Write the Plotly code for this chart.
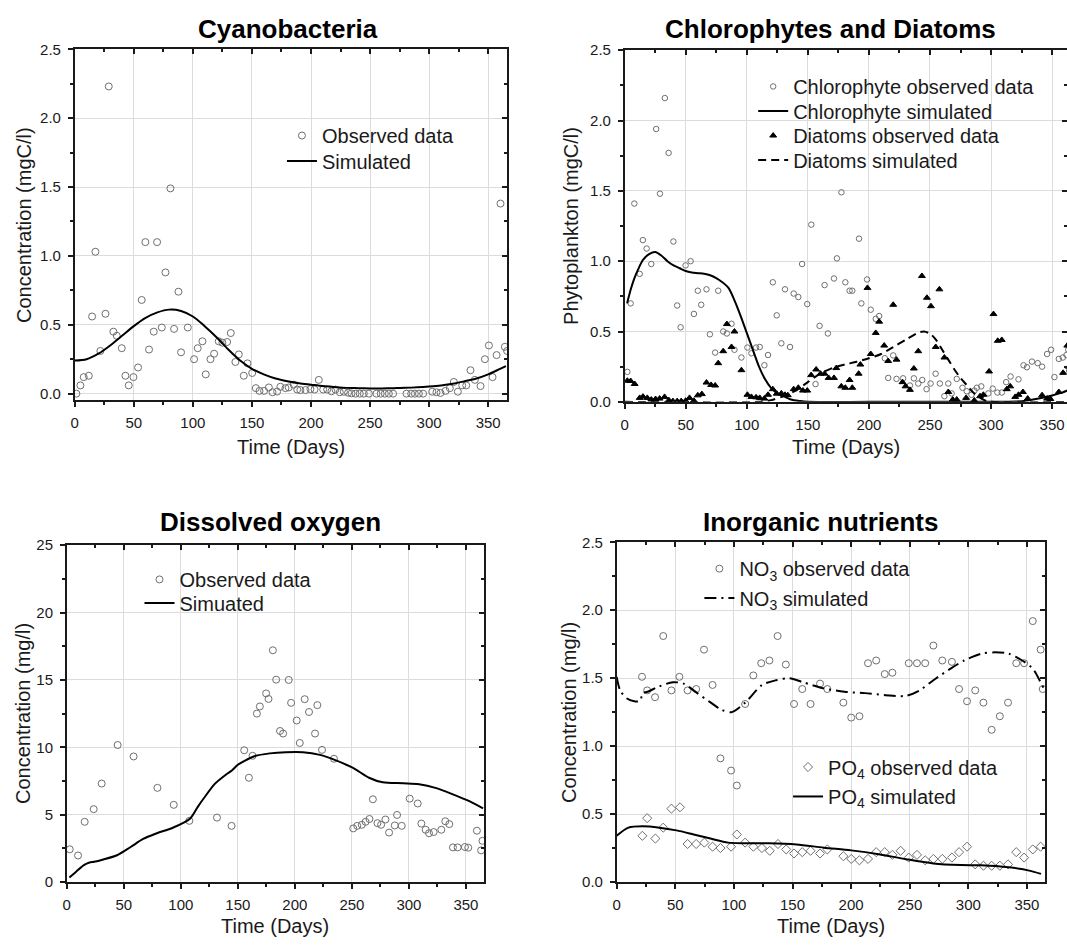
import plotly.graph_objects as go

# ---------------- data ----------------
# Cyanobacteria
cyano_obs_day = [1.4, 4.8, 7.6, 11.9, 14.7, 17.5, 21.7, 26.0, 28.8, 32.7,
                 35.6, 39.8, 42.9, 45.7, 49.7, 53.6, 56.7, 59.8, 62.9, 66.9,
                 69.7, 73.7, 76.8, 81.0, 84.1, 87.8, 90.0, 95.7, 101.0, 104.1,
                 108.1, 110.9, 114.9, 118.0, 121.9, 125.0, 129.0, 132.1, 136.0, 138.9,
                 143.1, 146.2, 150.2, 153.3, 156.4, 160.3, 164.3, 167.4, 171.3, 174.1,
                 178.4, 181.2, 185.4, 188.3, 191.0, 195.3, 199.5, 203.0, 206.6, 210.3,
                 213.7, 217.3, 220.7, 224.4, 227.8, 231.4, 234.3, 237.7, 241.3, 244.7,
                 249.0, 255.4, 259.0, 262.5, 265.9, 269.5, 280.8, 284.8, 287.9, 291.3,
                 294.9, 302.6, 306.2, 309.6, 313.9, 317.5, 320.9, 324.3, 328.0, 331.4,
                 335.0, 338.7, 343.5, 347.2, 350.6, 353.7, 357.1, 360.4, 364.1, 366.0]
cyano_obs_val = [0.0, 0.06, 0.12, 0.13, 0.56, 1.03, 0.31, 0.58, 2.23, 0.45,
                 0.42, 0.33, 0.13, 0.06, 0.12, 0.19, 0.68, 1.10, 0.32, 0.45,
                 1.10, 0.48, 0.88, 1.49, 0.47, 0.74, 0.30, 0.48, 0.25, 0.33,
                 0.38, 0.14, 0.25, 0.29, 0.38, 0.37, 0.375, 0.44, 0.23, 0.285,
                 0.13, 0.22, 0.15, 0.04, 0.02, 0.02, 0.045, 0.01, 0.015, 0.05,
                 0.04, 0.045, 0.065, 0.03, 0.026, 0.026, 0.033, 0.03, 0.10, 0.03,
                 0.03, 0.017, 0.03, 0.01, 0.014, 0.007, 0.002, 0.0, 0.0, 0.0,
                 0.0, 0.0, 0.0, 0.0, 0.0, 0.0, 0.0, 0.0, 0.0, 0.0,
                 0.0, 0.014, 0.01, 0.005, 0.02, 0.04, 0.085, 0.014, 0.06, 0.06,
                 0.17, 0.10, 0.055, 0.25, 0.35, 0.12, 0.28, 1.38, 0.34, 0.31]
cyano_sim_day = [0, 10, 20, 30, 40, 50, 60, 70, 80, 90, 100, 110, 120, 130, 140,
                 150, 160, 170, 180, 190, 200, 210, 220, 230, 240, 250, 260, 270,
                 280, 290, 300, 310, 320, 330, 340, 350, 360, 365]
cyano_sim_val = [0.24, 0.25, 0.29, 0.35, 0.42, 0.49, 0.55, 0.59, 0.61, 0.60, 0.56,
                 0.49, 0.41, 0.32, 0.24, 0.18, 0.14, 0.11, 0.09, 0.075, 0.065, 0.055,
                 0.048, 0.042, 0.04, 0.038, 0.038, 0.04, 0.042, 0.046, 0.052, 0.06,
                 0.072, 0.09, 0.11, 0.14, 0.18, 0.20]

# Chlorophytes and diatoms
chloro_obs_day = [2.2, 4.9, 7.9, 12.3, 14.9, 18.0, 21.8, 25.8, 28.9, 32.9,
                  36.0, 39.9, 43.0, 45.8, 49.9, 54.0, 56.7, 59.9, 62.7, 67.0,
                  69.8, 74.1, 76.6, 80.7, 83.7, 87.5, 89.9, 95.6, 100.5, 103.8,
                  107.6, 110.6, 114.4, 117.4, 121.3, 124.5, 128.3, 131.3, 135.4, 138.4,
                  142.2, 145.3, 149.5, 152.8, 156.3, 159.6, 163.7, 166.4, 171.4, 173.8,
                  177.5, 180.7, 184.2, 186.4, 191.9, 193.8, 198.5, 201.5, 205.6, 208.4,
                  213.0, 215.8, 219.9, 222.6, 228.0, 233.6, 236.8, 240.4, 243.7, 247.2,
                  250.5, 254.6, 258.1, 261.8, 265.0, 267.7, 271.9, 276.6, 280.1, 284.0,
                  286.4, 288.4, 292.0, 297.8, 301.4, 305.2, 308.8, 312.4, 316.0, 322.5,
                  326.6, 329.4, 333.5, 338.2, 341.8, 345.9, 349.2, 351.9, 355.5, 358.8,
                  361.8, 363.2, 364.0]
chloro_obs_val = [0.213, 0.70, 1.41, 0.91, 1.15, 1.09, 0.98, 1.94, 1.48, 2.16,
                  1.77, 1.14, 0.685, 0.53, 0.97, 1.00, 0.625, 0.79, 0.69, 0.80,
                  0.48, 0.35, 0.79, 0.50, 0.486, 0.555, 0.37, 0.315, 0.386, 0.345,
                  0.386, 0.39, 0.26, 0.333, 0.85, 0.615, 0.416, 0.80, 0.39, 0.77,
                  0.745, 0.98, 0.695, 1.26, 0.126, 0.54, 0.83, 0.486, 0.877, 1.02,
                  1.49, 0.85, 0.79, 0.79, 1.16, 0.70, 0.87, 0.655, 0.59, 0.61,
                  0.31, 0.17, 0.33, 0.163, 0.167, 0.116, 0.167, 0.13, 0.155, 0.09,
                  0.13, 0.20, 0.13, 0.04, 0.13, 0.06, 0.163, 0.10, 0.075, 0.05,
                  0.08, 0.10, 0.11, 0.06, 0.094, 0.066, 0.066, 0.14, 0.18, 0.16,
                  0.26, 0.246, 0.286, 0.275, 0.25, 0.34, 0.37, 0.176, 0.305, 0.315,
                  0.333, 0.37, 0.22]
chloro_sim_day = [2, 5, 8, 12, 15, 20, 25, 30, 35, 40, 45, 50, 55, 60, 65, 70, 75,
                  80, 85, 90, 95, 100, 105, 110, 115, 120, 125, 130, 136, 144, 150,
                  200, 250, 300, 320, 330, 340, 350, 358, 365]
chloro_sim_val = [0.70, 0.80, 0.88, 0.96, 1.01, 1.05, 1.065, 1.04, 1.0, 0.97, 0.95,
                  0.93, 0.92, 0.915, 0.91, 0.90, 0.88, 0.85, 0.81, 0.72, 0.61, 0.49,
                  0.37, 0.25, 0.16, 0.097, 0.06, 0.04, 0.016, 0.005, 0.0, 0.0, 0.0,
                  0.0, 0.002, 0.01, 0.025, 0.045, 0.065, 0.09]
diatom_obs_day = [2.2, 4.9, 8.2, 12.3, 15.0, 18.5, 21.8, 25.3, 28.6, 32.7,
                  36.2, 39.5, 43.0, 46.3, 49.9, 53.1, 56.7, 59.9, 63.2, 67.0,
                  70.8, 74.1, 76.6, 80.7, 83.7, 87.5, 89.9, 95.6, 100.5, 103.8,
                  107.6, 110.6, 114.4, 117.4, 121.3, 124.5, 128.3, 131.3, 133.6, 138.4,
                  142.2, 146.0, 149.5, 152.7, 156.8, 160.4, 163.7, 167.0, 171.4, 173.3,
                  177.4, 180.7, 184.2, 186.4, 191.6, 193.0, 198.8, 201.5, 205.6, 208.4,
                  212.5, 215.8, 219.9, 222.6, 227.5, 230.0, 233.6, 236.8, 240.4, 243.4,
                  247.5, 250.8, 254.7, 257.7, 261.8, 265.0, 268.6, 271.9, 279.6, 286.3,
                  291.0, 293.7, 298.4, 302.0, 305.5, 308.8, 312.9, 315.7, 319.8, 322.5,
                  326.1, 330.0, 341.8, 345.9, 348.6, 355.5, 359.0, 362.4, 363.7]
diatom_obs_val = [0.15, 0.148, 0.127, 0.028, 0.037, 0.028, 0.016, 0.02, 0.023, 0.035,
                  0.012, 0.005, 0.005, 0.005, 0.008, 0.028, 0.008, 0.046, 0.055, 0.137,
                  0.12, 0.116, 0.275, 0.36, 0.553, 0.39, 0.50, 0.225, 0.05, 0.035,
                  0.032, 0.028, 0.023, 0.05, 0.09, 0.058, 0.06, 0.05, 0.047, 0.09,
                  0.10, 0.08, 0.08, 0.19, 0.23, 0.20, 0.20, 0.17, 0.17, 0.24,
                  0.11, 0.10, 0.155, 0.10, 0.20, 0.265, 0.81, 0.34, 0.49, 0.57,
                  0.40, 0.29, 0.69, 0.30, 0.14, 0.11, 0.085, 0.237, 0.36, 0.895,
                  0.74, 0.68, 0.39, 0.80, 0.315, 0.07, 0.016, 0.016, 0.028, 0.01,
                  0.04, 0.05, 0.216, 0.624, 0.434, 0.44, 0.09, 0.11, 0.035, 0.05,
                  0.07, 0.023, 0.047, 0.023, 0.02, 0.07, 0.206, 0.40, 0.25]
diatom_sim_day = [0, 110, 120, 130, 140, 150, 160, 170, 180, 190, 200, 210, 220, 230,
                  240, 245, 250, 255, 260, 265, 270, 275, 280, 285, 290, 295, 300, 365]
diatom_sim_val = [0.0, 0.0, 0.012, 0.04, 0.08, 0.14, 0.20, 0.24, 0.265, 0.285, 0.31,
                  0.34, 0.39, 0.44, 0.49, 0.50, 0.485, 0.44, 0.37, 0.30, 0.23, 0.17,
                  0.12, 0.07, 0.035, 0.01, 0.0, 0.0]

# Dissolved oxygen
do_obs_day = [2.6, 9.9, 15.7, 23.6, 30.6, 44.6, 58.6, 79.5, 93.8, 107.5,
              131.7, 144.5, 155.6, 159.7, 162.9, 166.7, 169.3, 174.8, 176.9, 180.7,
              183.6, 187.0, 189.7, 194.6, 196.7, 201.6, 204.3, 208.6, 212.4, 217.7,
              219.7, 223.8, 234.3, 251.2, 254.7, 258.7, 262.0, 265.4, 268.4, 272.4,
              275.6, 279.4, 282.6, 287.6, 289.6, 293.7, 300.7, 307.7, 310.9, 314.7,
              317.6, 321.7, 328.4, 331.9, 335.4, 338.6, 342.7, 349.1, 352.0, 359.6,
              363.3, 364.5]
do_obs_val = [2.43, 1.97, 4.47, 5.41, 7.31, 10.17, 9.32, 6.99, 5.73, 4.54,
              4.78, 4.17, 9.78, 7.74, 9.37, 12.5, 13.03, 14.0, 13.59, 17.2,
              15.02, 11.21, 11.02, 15.0, 13.3, 11.99, 10.32, 13.57, 12.62, 11.02,
              13.13, 9.81, 9.15, 3.98, 4.17, 4.25, 4.47, 4.68, 6.14, 4.37,
              4.25, 4.64, 3.67, 4.2, 4.98, 4.17, 6.19, 5.83, 4.34, 3.88,
              3.62, 3.71, 3.88, 4.51, 4.30, 2.57, 2.57, 2.6, 2.55, 3.81,
              2.35, 3.06]
do_sim_day = [2.3, 8, 15, 20, 24, 32, 44, 56, 67, 79, 93.5, 108, 115, 120, 130, 140,
              145, 150, 155, 165, 178, 192, 207, 222, 236, 251, 265, 277, 295, 309,
              324, 338, 353, 365]
do_sim_val = [0.34, 0.75, 1.26, 1.45, 1.5, 1.67, 1.99, 2.6, 3.2, 3.62, 4.05, 4.7,
              5.6, 6.2, 7.3, 8.0, 8.3, 8.7, 8.95, 9.35, 9.55, 9.64, 9.64, 9.44, 9.03,
              8.47, 7.74, 7.4, 7.33, 7.26, 6.97, 6.53, 6.0, 5.46]

# Inorganic nutrients
no3_obs_day = [21.6, 26.0, 32.7, 39.7, 46.7, 53.5, 60.5, 67.8, 74.5, 81.8,
               88.5, 97.6, 102.5, 109.6, 116.6, 123.3, 130.3, 137.3, 144.3, 151.3,
               158.3, 165.4, 173.5, 179.7, 193.4, 200.1, 207.1, 214.4, 221.4, 228.7,
               235.2, 249.2, 256.2, 263.2, 270.2, 277.8, 286.0, 292.1, 298.9, 305.9,
               312.9, 319.9, 326.9, 333.9, 340.9, 347.6, 355.0, 361.7, 363.5]
no3_obs_val = [1.51, 1.41, 1.36, 1.81, 1.41, 1.51, 1.41, 1.42, 1.71, 1.45,
               0.91, 0.82, 0.71, 1.31, 1.52, 1.61, 1.63, 1.81, 1.60, 1.31,
               1.42, 1.31, 1.46, 1.42, 1.32, 1.21, 1.22, 1.61, 1.63, 1.53,
               1.54, 1.61, 1.61, 1.61, 1.74, 1.63, 1.62, 1.42, 1.33, 1.41,
               1.32, 1.12, 1.22, 1.32, 1.61, 1.61, 1.92, 1.71, 1.42]
no3_sim_day = [0, 3, 8.8, 15, 19, 20.5, 22, 26.3, 36.5, 48, 57, 68.7, 80.3, 89, 98,
               109.6, 124, 136, 147.5, 159, 176.7, 194.3, 211.8, 229.3, 246.9, 258.5,
               270.2, 284.8, 296.5, 311, 322.8, 334.5, 346, 355, 360.8, 364]
no3_sim_val = [1.51, 1.41, 1.35, 1.33, 1.33, 1.34, 1.39, 1.40, 1.44, 1.47, 1.46,
               1.39, 1.32, 1.27, 1.25, 1.32, 1.45, 1.485, 1.50, 1.47, 1.425, 1.40,
               1.39, 1.375, 1.37, 1.41, 1.485, 1.57, 1.63, 1.68, 1.69, 1.68, 1.63,
               1.57, 1.485, 1.43]
po4_obs_day = [21.9, 26.0, 33.0, 39.7, 46.7, 54.0, 60.5, 67.8, 74.8, 81.8,
               88.5, 97.6, 102.5, 109.6, 116.6, 123.9, 130.6, 137.6, 144.6, 151.3,
               158.3, 165.4, 173.5, 179.7, 193.4, 200.1, 207.1, 214.4, 221.4, 228.7,
               235.2, 242.2, 249.2, 256.2, 263.2, 270.2, 277.8, 286.0, 292.1, 298.9,
               305.9, 312.9, 319.9, 326.9, 333.9, 340.9, 347.6, 355.0, 361.7]
po4_obs_val = [0.34, 0.47, 0.32, 0.40, 0.54, 0.55, 0.28, 0.28, 0.29, 0.26,
               0.25, 0.26, 0.35, 0.29, 0.26, 0.25, 0.23, 0.28, 0.24, 0.21,
               0.22, 0.23, 0.21, 0.24, 0.19, 0.17, 0.16, 0.17, 0.22, 0.22,
               0.20, 0.23, 0.18, 0.20, 0.16, 0.17, 0.17, 0.18, 0.22, 0.26,
               0.13, 0.12, 0.12, 0.12, 0.13, 0.22, 0.18, 0.24, 0.26]
po4_sim_day = [0, 10, 22, 36.5, 51, 65.7, 80, 95, 109.6, 130, 153.4, 176.7, 200,
               223.5, 246.9, 270.2, 293.6, 311, 334.5, 352, 362]
po4_sim_val = [0.34, 0.40, 0.41, 0.40, 0.38, 0.35, 0.32, 0.29, 0.286, 0.286, 0.277,
               0.253, 0.233, 0.205, 0.168, 0.137, 0.125, 0.123, 0.108, 0.084, 0.06]

# ---------------- figure ----------------
W, H = 1067, 947
FONT = "Liberation Sans, Arial, sans-serif"
INK = "#1a1a1a"
GRAY = "#6f6f6f"

# plot-area boxes in pixels (left, right, top, bottom)
panels = [
    dict(l=71, r=505, t=41, b=398, xr=[0, 366], yr=[-0.045, 2.5], dy=0.5, fmt=".1f"),
    dict(l=623, r=1067, t=42, b=400, xr=[0, 362.2], yr=[0, 2.5], dy=0.5, fmt=".1f"),
    dict(l=63, r=482, t=546, b=889, xr=[0, 366], yr=[0, 25], dy=5, fmt="d"),
    dict(l=615, r=1045, t=543, b=889, xr=[0, 365.5], yr=[0, 2.5], dy=0.5, fmt=".1f"),
]


def ax(name, k):
    return name if k == 1 else f"{name}{k}"


fig = go.Figure()
layout = dict(width=W, height=H, margin=dict(l=0, r=0, t=0, b=0),
              paper_bgcolor="white", plot_bgcolor="white",
              font=dict(family=FONT, color=INK), showlegend=True)

tickfont = dict(family=FONT, size=15, color=INK)
for i, p in enumerate(panels):
    k = i + 1
    ko = k + 4
    xd = [p["l"] / W, min(p["r"] / W, 1.0)]
    yd = [1 - p["b"] / H, 1 - p["t"] / H]
    common = dict(showline=True, linecolor=INK, linewidth=1.5, zeroline=False,
                  tickcolor=INK, tickwidth=1.5, ticklen=5, tickmode="linear", tick0=0)
    layout[ax("xaxis", k)] = dict(domain=xd, range=p["xr"], anchor=ax("y", k), dtick=50,
                                  ticks="outside", showgrid=True, gridcolor="#dcdcdc",
                                  gridwidth=1, tickfont=tickfont, ticklabelstandoff=3,
                                  minor=dict(ticks="outside", ticklen=3, tickwidth=1.5,
                                             tickcolor=INK, dtick=25, tick0=0, showgrid=False),
                                  **common)
    layout[ax("yaxis", k)] = dict(domain=yd, range=p["yr"], anchor=ax("x", k), dtick=p["dy"],
                                  ticks="outside", showgrid=True, gridcolor="#dcdcdc",
                                  gridwidth=1, tickfont=tickfont, tickformat=p["fmt"],
                                  ticklabelstandoff=4,
                                  minor=dict(ticks="outside", ticklen=3, tickwidth=1.5,
                                             tickcolor=INK, dtick=p["dy"] / 2, tick0=0,
                                             showgrid=False),
                                  **common)
    layout[ax("xaxis", ko)] = dict(overlaying=ax("x", k), side="top", anchor=ax("y", ko),
                                   range=p["xr"], dtick=50, ticks="inside",
                                   showticklabels=False, showgrid=False,
                                   minor=dict(ticks="inside", ticklen=3, tickwidth=1.5,
                                              tickcolor=INK, dtick=25, tick0=0),
                                   **common)
    layout[ax("yaxis", ko)] = dict(overlaying=ax("y", k), side="right", anchor=ax("x", ko),
                                   range=p["yr"], dtick=p["dy"], ticks="inside",
                                   showticklabels=False, showgrid=False,
                                   minor=dict(ticks="inside", ticklen=3, tickwidth=1.5,
                                              tickcolor=INK, dtick=p["dy"] / 2, tick0=0),
                                   **common)
    fig.add_trace(go.Scatter(x=[None], y=[None], xaxis=ax("x", ko), yaxis=ax("y", ko),
                             showlegend=False, hoverinfo="skip", mode="markers"))

# one legend per entry so that each row can sit where the reference puts it
# (text-left px, row-centre px)
legend_rows = [(322, 129), (322, 155),
               (795, 79), (795, 104), (795, 129), (795, 154),
               (179, 581), (179, 605),
               (741, 570), (741, 600),
               (830, 772), (830, 802)]
legend_names = ["legend"] + [f"legend{j}" for j in range(2, len(legend_rows) + 1)]
for (tx, cy), lname in zip(legend_rows, legend_names):
    layout[lname] = dict(x=(tx - 43) / W, y=1 - (cy - 20) / H, xanchor="left",
                         yanchor="top", bgcolor="rgba(0,0,0,0)", borderwidth=0,
                         font=dict(family=FONT, size=20, color=INK))


def obs(x, y, name, k, j, symbol="circle-open", size=7, color=GRAY):
    return go.Scatter(x=x, y=y, mode="markers", name=name, legend=legend_names[j],
                      xaxis=ax("x", k), yaxis=ax("y", k),
                      marker=dict(symbol=symbol, size=size, color=color,
                                  line=dict(width=1, color=color)))


def sim(x, y, name, k, j, dash="solid"):
    return go.Scatter(x=x, y=y, mode="lines", name=name, legend=legend_names[j],
                      xaxis=ax("x", k), yaxis=ax("y", k),
                      line=dict(color="black", width=2, dash=dash, shape="spline",
                                smoothing=0.8))


# panel 1
fig.add_trace(obs(cyano_obs_day, cyano_obs_val, "Observed data", 1, 0))
fig.add_trace(sim(cyano_sim_day, cyano_sim_val, "Simulated", 1, 1))
# panel 2
fig.add_trace(obs(chloro_obs_day, chloro_obs_val, "Chlorophyte observed data", 2, 2, size=5.5))
fig.add_trace(sim(chloro_sim_day, chloro_sim_val, "Chlorophyte simulated", 2, 3))
fig.add_trace(obs(diatom_obs_day, diatom_obs_val, "Diatoms observed data", 2, 4,
                  symbol="triangle-up", size=6, color="black"))
fig.add_trace(sim(diatom_sim_day, diatom_sim_val, "Diatoms simulated", 2, 5, dash="8px,5px"))
# panel 3
fig.add_trace(obs(do_obs_day, do_obs_val, "Observed data", 3, 6))
fig.add_trace(sim(do_sim_day, do_sim_val, "Simuated", 3, 7))
# panel 4
fig.add_trace(obs(no3_obs_day, no3_obs_val, "NO<sub>3</sub> observed data", 4, 8))
fig.add_trace(sim(no3_sim_day, no3_sim_val, "NO<sub>3</sub> simulated", 4, 9,
                  dash="12px,5px,2px,5px"))
fig.add_trace(obs(po4_obs_day, po4_obs_val, "PO<sub>4</sub> observed data", 4, 10,
                  symbol="diamond-open", size=7))
fig.add_trace(sim(po4_sim_day, po4_sim_val, "PO<sub>4</sub> simulated", 4, 11))

# white legend panels that hide the grid behind the legend text (between grid and data)
legend_boxes = [(257, 505, 110, 168), (723, 1067, 43, 172), (125, 315, 563, 617),
                (694, 925, 555, 618), (770, 1044, 755, 822)]
shapes = []
for x0, x1, y0, y1 in legend_boxes:
    shapes.append(dict(type="rect", xref="paper", yref="paper", x0=x0 / W, x1=x1 / W,
                       y0=1 - y1 / H, y1=1 - y0 / H, fillcolor="white",
                       line=dict(width=0), layer="between"))
layout["shapes"] = shapes

# titles and axis titles
ann = []
titles = [("Cyanobacteria", 285, 20), ("Chlorophytes and Diatoms", 830, 20),
          ("Dissolved oxygen", 268, 522), ("Inorganic nutrients", 820, 522)]
for txt, cx, cy in titles:
    ann.append(dict(text=f"<b>{txt}</b>", x=cx / W, y=1 - cy / H, xref="paper", yref="paper",
                    showarrow=False, xanchor="center", yanchor="middle",
                    font=dict(family=FONT, size=26, color="black")))
xtitles = [(288, 446), (845, 446), (272, 934), (830, 934)]
for cx, cy in xtitles:
    ann.append(dict(text="Time (Days)", x=cx / W, y=1 - cy / H, xref="paper", yref="paper",
                    showarrow=False, xanchor="center", yanchor="middle",
                    font=dict(family=FONT, size=20, color=INK)))
ytitles = [("Concentration (mgC/l)", 20, 220), ("Phytoplankton (mgC/l)", 569, 221),
           ("Concentration (mg/l)", 19, 717), ("Concentration (mg/l)", 567, 716)]
for txt, cx, cy in ytitles:
    ann.append(dict(text=txt, x=cx / W, y=1 - cy / H, xref="paper", yref="paper",
                    showarrow=False, xanchor="center", yanchor="middle", textangle=-90,
                    font=dict(family=FONT, size=20, color=INK)))
layout["annotations"] = ann

fig.update_layout(**layout)
fig.write_html("out.html")
